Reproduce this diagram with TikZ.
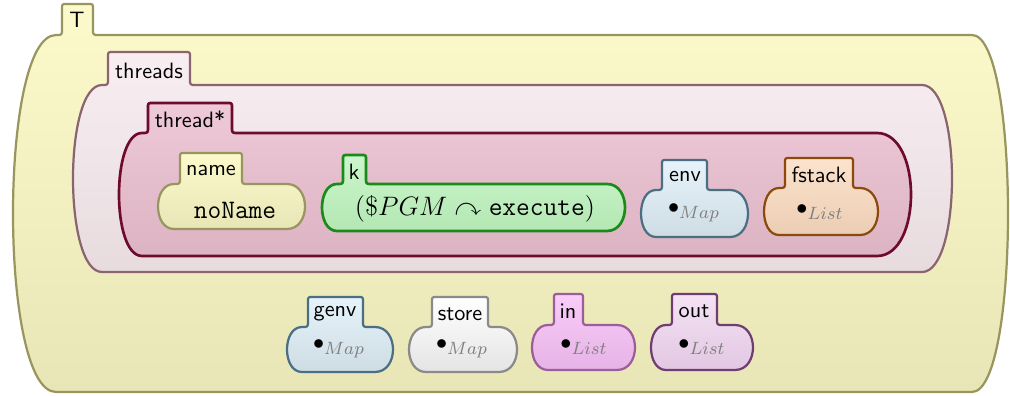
\documentclass[tikz,border=0pt]{standalone}
\usepackage{amsmath,amssymb}
\usepackage{tikz}

\definecolor{ylwTop}{HTML}{FCFACB}
\definecolor{ylwBot}{HTML}{E8E5B6}
\definecolor{ylwLine}{HTML}{99955E}
\definecolor{rosTop}{HTML}{F8EEF1}
\definecolor{rosBot}{HTML}{E7DBDE}
\definecolor{rosLine}{HTML}{8A6570}
\definecolor{thrTop}{HTML}{EEC9D7}
\definecolor{thrBot}{HTML}{DCB3C2}
\definecolor{thrLine}{HTML}{6E0A2E}
\definecolor{grnTop}{HTML}{CCF6CC}
\definecolor{grnBot}{HTML}{B3E7B3}
\definecolor{grnLine}{HTML}{1A8A1A}
\definecolor{bluTop}{HTML}{E6F3FB}
\definecolor{bluBot}{HTML}{CEDCE4}
\definecolor{bluLine}{HTML}{4B6F82}
\definecolor{orgTop}{HTML}{FCE3CD}
\definecolor{orgBot}{HTML}{EBCDB3}
\definecolor{orgLine}{HTML}{8B4A0B}
\definecolor{gryTop}{HTML}{FFFFFF}
\definecolor{gryBot}{HTML}{E4E4E4}
\definecolor{gryLine}{HTML}{8A8A8A}
\definecolor{magTop}{HTML}{F9CCF9}
\definecolor{magBot}{HTML}{E6B3E6}
\definecolor{magLine}{HTML}{9B5E9B}
\definecolor{lilTop}{HTML}{F4E3F4}
\definecolor{lilBot}{HTML}{E2C7E2}
\definecolor{lilLine}{HTML}{6F3D72}

\tikzstyle{cell}=[line width=1pt,line join=round]
\tikzstyle{cellyellow}=[cell,top color=ylwTop,bottom color=ylwBot,draw=ylwLine]
\tikzstyle{cellrose}=[cell,top color=rosTop,bottom color=rosBot,draw=rosLine]
\tikzstyle{cellthread}=[cell,line width=1.2pt,top color=thrTop,bottom color=thrBot,draw=thrLine]
\tikzstyle{cellgreen}=[cell,line width=1.2pt,top color=grnTop,bottom color=grnBot,draw=grnLine]
\tikzstyle{cellblue}=[cell,top color=bluTop,bottom color=bluBot,draw=bluLine]
\tikzstyle{cellorange}=[cell,top color=orgTop,bottom color=orgBot,draw=orgLine]
\tikzstyle{cellgray}=[cell,top color=gryTop,bottom color=gryBot,draw=gryLine]
\tikzstyle{cellmagenta}=[cell,top color=magTop,bottom color=magBot,draw=magLine]
\tikzstyle{celllilac}=[cell,top color=lilTop,bottom color=lilBot,draw=lilLine]
\tikzstyle{lbl}=[font=\sffamily,inner sep=0pt]
\tikzstyle{val}=[font=\large,inner sep=0pt]
\tikzstyle{dotval}=[font=\normalsize,inner sep=0pt]

% cell outline: #1 style, #2/#3 tab left/right, #4 tab top,
% #5 body top, #6 body bottom, #7 left bulge, #8 right bulge, #9 right corner depth
\newcommand{\kcell}[9]{%
  \pgfmathsetmacro\cellLx{#2-6}
  \pgfmathsetmacro\cellLc{#7-(\cellLx-#7)/3}
  \pgfmathsetmacro\cellRx{#8-#9}
  \pgfmathsetmacro\cellRc{#8+#9/3}
  \path[#1] (\cellLx,#5) .. controls (#2,#5) .. (#2,#5-6)
    -- (#2,#4+5) .. controls (#2,#4) .. (#2+5,#4)
    -- (#3-5,#4) .. controls (#3,#4) .. (#3,#4+5)
    -- (#3,#5-6) .. controls (#3,#5) .. (#3+6,#5)
    -- (\cellRx,#5) .. controls (\cellRc,#5) and (\cellRc,#6) .. (\cellRx,#6)
    -- (\cellLx,#6) .. controls (\cellLc,#6) and (\cellLc,#5) .. cycle;
}
\newcommand{\srt}[1]{{}_{\mbox{\footnotesize$\color{gray}#1$}}}

\begin{document}
\begin{tikzpicture}[x=0.45pt,y=-0.45pt]
\useasboundingbox (0,0) rectangle (1010,396);

% outer cells
\kcell{cellyellow}{62}{93}{4}{35}{392}{13}{1008}{36}
\kcell{cellrose}{108}{190}{52}{85}{272}{73}{952}{30}
\kcell{cellthread}{148}{232}{103}{133}{256}{119}{911}{34}

% inside thread*
\kcell{cellyellow}{180}{242}{153}{184}{229}{158}{305}{18}
\kcell{cellgreen}{343}{366}{155}{184}{231}{322}{625}{18}
\kcell{cellblue}{662}{707}{160}{190}{237}{641}{748}{18}
\kcell{cellorange}{785}{853}{158}{188}{235}{764}{878}{18}

% global cells
\kcell{cellblue}{308}{363}{297}{327}{372}{287}{393}{18}
\kcell{cellgray}{432}{488}{297}{327}{372}{409}{517}{18}
\kcell{cellmagenta}{554}{583}{294}{325}{370}{532}{635}{18}
\kcell{celllilac}{672}{717}{294}{325}{370}{651}{753}{18}

\node[lbl] (tT) at (77,20) {T};
\node[lbl] (tthreads) at (149,71) {threads};
\node[lbl] (tthread) at (190,119) {thread*};
\node[lbl] (tname) at (211,171) {name};
\node[lbl] (tk) at (354,172) {k};
\node[lbl] (tenv) at (685,177) {env};
\node[lbl] (tfstack) at (819,175) {fstack};
\node[lbl] (tgenv) at (335,314) {genv};
\node[lbl] (tstore) at (460,314) {store};
\node[lbl] (tin) at (568,311) {in};
\node[lbl] (tout) at (694,311) {out};

\node[val] (vname) at (235,210) {\texttt{noName}};
\node[val] (vk) at (475,209) {$(\$PGM \curvearrowright \texttt{execute})$};
\node[dotval] (venv) at (694,213) {$\bullet\srt{Map}$};
\node[dotval] (vfstack) at (820,212) {$\bullet\srt{List}$};
\node[dotval] (vgenv) at (339,349) {$\bullet\srt{Map}$};
\node[dotval] (vstore) at (462,349) {$\bullet\srt{Map}$};
\node[dotval] (vin) at (584,347) {$\bullet\srt{List}$};
\node[dotval] (vout) at (702,347) {$\bullet\srt{List}$};
\end{tikzpicture}
\end{document}
